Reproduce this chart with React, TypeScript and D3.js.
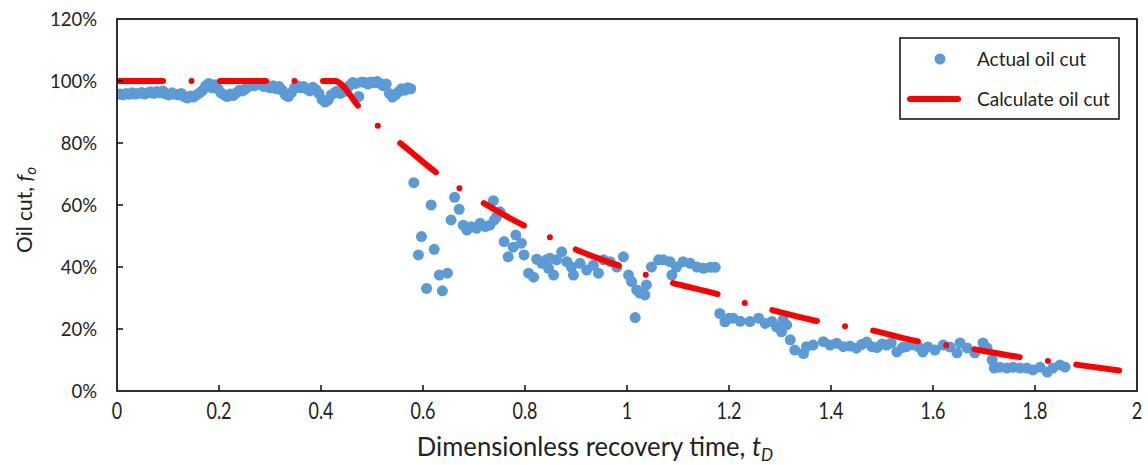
import React, { useEffect, useRef } from "react";
import * as d3 from "d3";

// Measured oil cut (fraction) against dimensionless recovery time
const actualTime = [
  0.000, 0.006, 0.012, 0.018, 0.024, 0.030, 0.036, 0.042, 0.048, 0.054,
  0.060, 0.066, 0.072, 0.078, 0.084, 0.090, 0.096, 0.102, 0.108, 0.114,
  0.120, 0.126, 0.132, 0.138, 0.144, 0.150, 0.156, 0.162, 0.168, 0.174,
  0.180, 0.186, 0.192, 0.198, 0.204, 0.210, 0.216, 0.222, 0.228, 0.234,
  0.240, 0.246, 0.252, 0.258, 0.264, 0.270, 0.276, 0.282, 0.288, 0.294,
  0.300, 0.306, 0.312, 0.318, 0.324, 0.330, 0.336, 0.342, 0.348, 0.354,
  0.360, 0.366, 0.372, 0.378, 0.384, 0.390, 0.396, 0.402, 0.408, 0.414,
  0.420, 0.426, 0.432, 0.438, 0.444, 0.450, 0.456, 0.462, 0.468, 0.474,
  0.480, 0.486, 0.492, 0.498, 0.504, 0.510, 0.516, 0.522, 0.528, 0.534,
  0.540, 0.546, 0.552, 0.558, 0.564, 0.570, 0.576,
  0.582, 0.591, 0.597, 0.607, 0.616, 0.622, 0.632, 0.638, 0.648, 0.655,
  0.662, 0.671, 0.679, 0.686, 0.695, 0.705, 0.712, 0.722, 0.731, 0.738,
  0.740, 0.744, 0.751, 0.759, 0.767, 0.777, 0.782, 0.793, 0.798, 0.807,
  0.817, 0.823, 0.833, 0.842, 0.846, 0.849, 0.856, 0.862, 0.872, 0.882,
  0.891, 0.895, 0.908, 0.921, 0.934, 0.944, 0.954, 0.967, 0.980, 0.993,
  1.003, 1.009, 1.016, 1.019, 1.025, 1.035, 1.038, 1.048, 1.062, 1.071,
  1.084, 1.088, 1.097, 1.110, 1.124, 1.137, 1.150, 1.163, 1.173,
  1.182, 1.192, 1.200, 1.208, 1.222, 1.241, 1.258, 1.271, 1.284, 1.293,
  1.303, 1.306, 1.313, 1.320, 1.329, 1.346, 1.352,
  1.365, 1.385, 1.398, 1.411, 1.424, 1.437, 1.450, 1.460, 1.470, 1.480,
  1.490, 1.500, 1.509, 1.518, 1.529, 1.540, 1.548, 1.561, 1.571, 1.580,
  1.590, 1.604, 1.620, 1.633, 1.647, 1.653, 1.667, 1.682, 1.698, 1.706,
  1.716, 1.720, 1.731, 1.745, 1.757, 1.771, 1.784, 1.796, 1.810, 1.824,
  1.835, 1.849, 1.859,
];
const actualOilCut = [
  0.957, 0.958, 0.955, 0.960, 0.957, 0.962, 0.958, 0.960, 0.963, 0.958,
  0.962, 0.965, 0.960, 0.966, 0.962, 0.968, 0.958, 0.955, 0.962, 0.957,
  0.955, 0.960, 0.950, 0.945, 0.952, 0.948, 0.955, 0.962, 0.970, 0.985,
  0.992, 0.978, 0.988, 0.975, 0.962, 0.955, 0.950, 0.958, 0.953, 0.962,
  0.970, 0.968, 0.975, 0.982, 0.988, 0.985, 0.992, 0.990, 0.982, 0.986,
  0.978, 0.985, 0.975, 0.982, 0.970, 0.955, 0.950, 0.962, 0.978, 0.985,
  0.978, 0.982, 0.975, 0.968, 0.980, 0.972, 0.960, 0.940, 0.932, 0.938,
  0.955, 0.962, 0.968, 0.960, 0.965, 0.975, 0.985, 0.995, 0.992, 0.950,
  0.997, 0.995, 0.990, 0.997, 0.995, 0.998, 0.992, 0.985, 0.990, 0.960,
  0.948, 0.955, 0.965, 0.975, 0.970, 0.978, 0.975,
  0.672, 0.439, 0.498, 0.331, 0.600, 0.457, 0.374, 0.323, 0.380, 0.552,
  0.625, 0.586, 0.535, 0.519, 0.530, 0.525, 0.541, 0.530, 0.535, 0.614,
  0.552, 0.562, 0.578, 0.482, 0.433, 0.464, 0.503, 0.477, 0.439, 0.380,
  0.367, 0.425, 0.412, 0.423, 0.396, 0.428, 0.374, 0.423, 0.449, 0.417,
  0.400, 0.374, 0.412, 0.390, 0.406, 0.380, 0.423, 0.417, 0.400, 0.433,
  0.374, 0.353, 0.237, 0.326, 0.316, 0.310, 0.342, 0.400, 0.423, 0.423,
  0.417, 0.374, 0.400, 0.417, 0.412, 0.400, 0.396, 0.399, 0.399,
  0.250, 0.223, 0.235, 0.235, 0.225, 0.224, 0.235, 0.218, 0.224, 0.207,
  0.191, 0.229, 0.213, 0.165, 0.132, 0.121, 0.143,
  0.148, 0.159, 0.148, 0.154, 0.143, 0.145, 0.138, 0.150, 0.158, 0.143,
  0.140, 0.152, 0.148, 0.155, 0.126, 0.140, 0.143, 0.150, 0.143, 0.126,
  0.142, 0.132, 0.148, 0.142, 0.123, 0.155, 0.139, 0.123, 0.155, 0.139,
  0.100, 0.074, 0.077, 0.074, 0.077, 0.074, 0.074, 0.068, 0.077, 0.061,
  0.074, 0.084, 0.077,
];

// Model (calculated) oil cut curve
const calcTime = [
  0, 0.427, 0.476, 0.512, 0.555, 0.63, 0.673, 0.718, 0.8, 0.846, 0.895,
  0.986, 1.035, 1.08, 1.182, 1.228, 1.28, 1.372, 1.424, 1.476, 1.568, 1.62,
  1.673, 1.767, 1.82, 1.872, 1.965,
];
const calcOilCut = [
  1, 1, 0.914, 0.855, 0.8, 0.7, 0.652, 0.607, 0.532, 0.498, 0.46, 0.403,
  0.376, 0.353, 0.31, 0.285, 0.263, 0.226, 0.21, 0.197, 0.161, 0.149,
  0.137, 0.11, 0.098, 0.087, 0.066,
];

const xTicks = [0, 0.2, 0.4, 0.6, 0.8, 1, 1.2, 1.4, 1.6, 1.8, 2];
const yTicks = [0, 0.2, 0.4, 0.6, 0.8, 1.0, 1.2];
const legendLabels = ["Actual oil cut", "Calculate oil cut"];

const W = 1148;
const H = 465;
const plot = { left: 117, right: 1137, top: 19, bottom: 391 };
const BLUE = "#5B9BD5";
const RED = "#FF0000";
const FONT = "Lato, 'Open Sans', sans-serif";

export default function App() {
  const ref = useRef<SVGSVGElement>(null);

  useEffect(() => {
    const svg = d3.select(ref.current);
    svg.selectAll("*").remove();

    const x = d3.scaleLinear().domain([0, 2]).range([plot.left, plot.right]);
    const y = d3.scaleLinear().domain([0, 1.2]).range([plot.bottom, plot.top]);

    svg.append("rect").attr("width", W).attr("height", H).attr("fill", "#fff");

    svg
      .append("defs")
      .append("clipPath")
      .attr("id", "plot-clip")
      .append("rect")
      .attr("x", plot.left)
      .attr("y", plot.top - 4)
      .attr("width", plot.right - plot.left)
      .attr("height", plot.bottom - plot.top + 4);

    // Actual oil cut markers
    const pts = actualTime.map((t, i) => [t, actualOilCut[i]] as [number, number]);
    svg
      .append("g")
      .attr("clip-path", "url(#plot-clip)")
      .selectAll("circle")
      .data(pts)
      .join("circle")
      .attr("cx", (d) => x(d[0]))
      .attr("cy", (d) => y(d[1]))
      .attr("r", 5.5)
      .attr("fill", BLUE);

    // Calculated oil cut, long-dash-dot red line
    const calc = calcTime.map((t, i) => [t, calcOilCut[i]] as [number, number]);
    const line = d3
      .line<[number, number]>()
      .x((d) => x(d[0]))
      .y((d) => y(d[1]))
      .curve(d3.curveMonotoneX);
    svg
      .append("g")
      .attr("clip-path", "url(#plot-clip)")
      .append("path")
      .attr("d", line(calc) as string)
      .attr("fill", "none")
      .attr("stroke", RED)
      .attr("stroke-width", 6)
      .attr("stroke-linecap", "round")
      .attr("stroke-linejoin", "round")
      .attr("stroke-dasharray", "46 28.5 0 28.5");

    // Plot frame
    svg
      .append("rect")
      .attr("x", plot.left)
      .attr("y", plot.top)
      .attr("width", plot.right - plot.left)
      .attr("height", plot.bottom - plot.top)
      .attr("fill", "none")
      .attr("stroke", "#1a1a1a")
      .attr("stroke-width", 1.8);

    // Inward ticks
    const ticks = svg.append("g").attr("stroke", "#1a1a1a").attr("stroke-width", 1.6);
    ticks
      .selectAll("line.xt")
      .data(xTicks.slice(1, -1))
      .join("line")
      .attr("x1", (d) => x(d))
      .attr("x2", (d) => x(d))
      .attr("y1", plot.bottom)
      .attr("y2", plot.bottom - 6);
    ticks
      .selectAll("line.yt")
      .data(yTicks.slice(1, -1))
      .join("line")
      .attr("x1", plot.left)
      .attr("x2", plot.left + 6)
      .attr("y1", (d) => y(d))
      .attr("y2", (d) => y(d));

    // Y tick labels
    svg
      .append("g")
      .selectAll("text")
      .data(yTicks)
      .join("text")
      .attr("x", 97)
      .attr("y", (d) => y(d))
      .attr("dy", "0.36em")
      .attr("text-anchor", "end")
      .attr("font-family", FONT)
      .attr("font-size", 18.5)
      .attr("fill", "#222")
      .text((d) => d3.format(".0%")(d));

    // X tick labels (condensed)
    svg
      .append("g")
      .selectAll("text")
      .data(xTicks)
      .join("text")
      .attr("transform", (d) => `translate(${x(d)},${419}) scale(0.78,1)`)
      .attr("text-anchor", "middle")
      .attr("font-family", FONT)
      .attr("font-size", 23)
      .attr("fill", "#222")
      .text((d) => d3.format("")(d));

    // X axis title
    const xt = svg
      .append("text")
      .attr("transform", `translate(${595},${456}) scale(0.95,1)`)
      .attr("text-anchor", "middle")
      .attr("font-family", FONT)
      .attr("font-size", 27)
      .attr("fill", "#222");
    xt.append("tspan").text("Dimensionless recovery time, ");
    xt.append("tspan").attr("font-style", "italic").text("t");
    xt.append("tspan").attr("font-style", "italic").attr("font-size", 18).attr("dy", 5).text("D");

    // Y axis title
    const yt = svg
      .append("text")
      .attr("transform", `translate(${32},${210}) rotate(-90)`)
      .attr("text-anchor", "middle")
      .attr("font-family", FONT)
      .attr("font-size", 21)
      .attr("fill", "#222");
    yt.append("tspan").text("Oil cut, ");
    yt.append("tspan").attr("font-style", "italic").text("f");
    yt.append("tspan").attr("font-style", "italic").attr("font-size", 15).attr("dy", 4).text("o");

    // Legend
    const lg = svg.append("g");
    lg.append("rect")
      .attr("x", 900)
      .attr("y", 38)
      .attr("width", 219)
      .attr("height", 81)
      .attr("fill", "#fff")
      .attr("stroke", "#1a1a1a")
      .attr("stroke-width", 1.6);
    lg.append("circle").attr("cx", 940).attr("cy", 59).attr("r", 5.5).attr("fill", BLUE);
    lg.append("line")
      .attr("x1", 910)
      .attr("x2", 958)
      .attr("y1", 99)
      .attr("y2", 99)
      .attr("stroke", RED)
      .attr("stroke-width", 6)
      .attr("stroke-linecap", "round");
    lg.selectAll("text.lt")
      .data(legendLabels)
      .join("text")
      .attr("x", 977)
      .attr("y", (_, i) => 59 + i * 40)
      .attr("dy", "0.36em")
      .attr("font-family", FONT)
      .attr("font-size", 19)
      .attr("fill", "#222")
      .text((d) => d);
  }, []);

  return (
    <svg
      ref={ref}
      width={W}
      height={H}
      style={{ position: "absolute", left: 0, top: 0, display: "block" }}
    />
  );
}
